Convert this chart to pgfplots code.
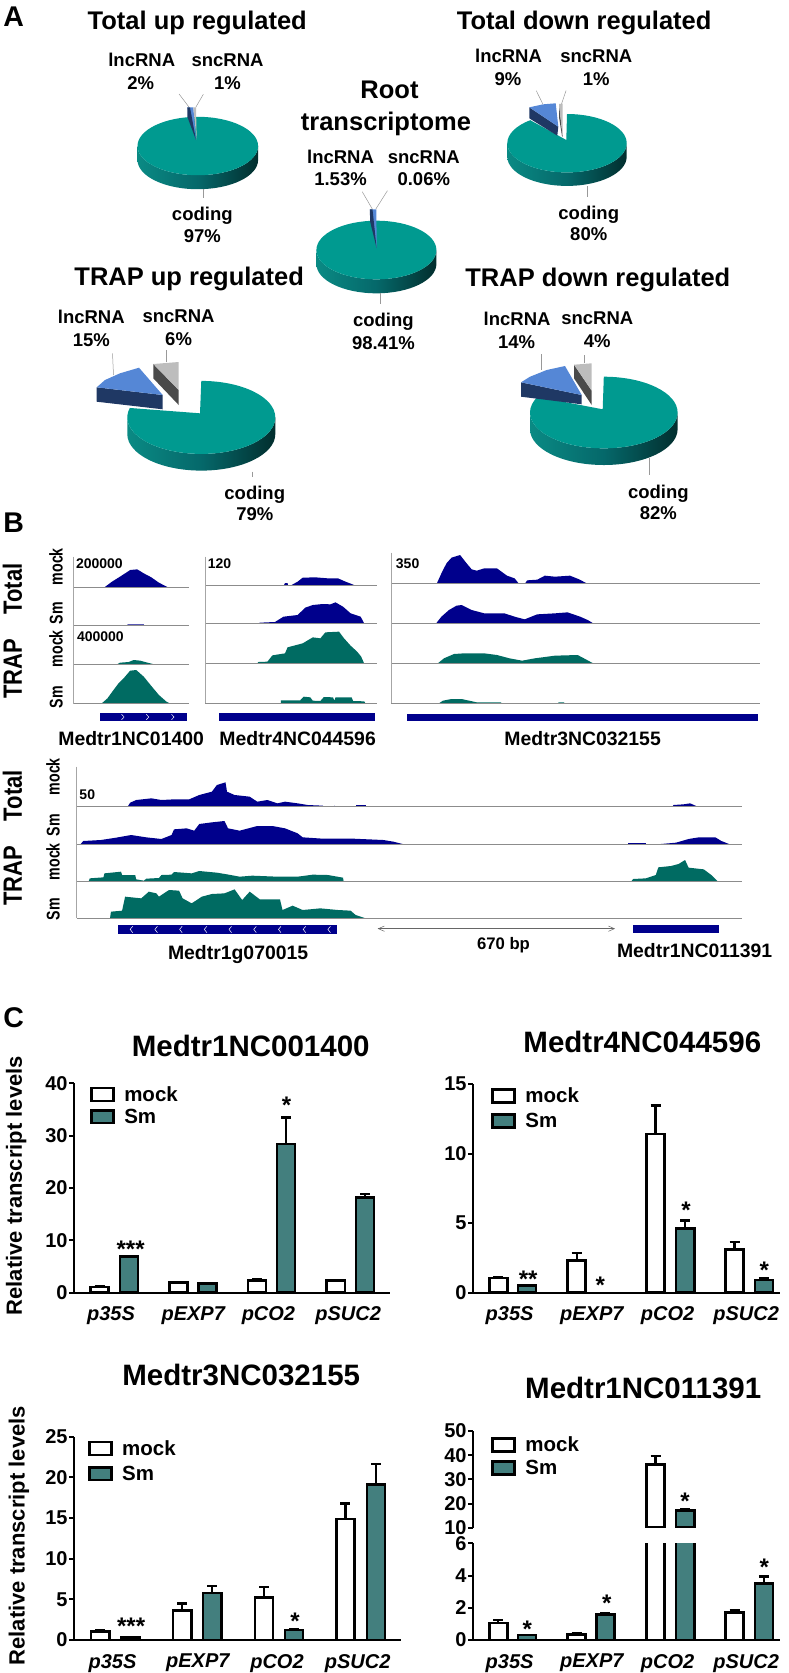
\documentclass[border=0pt]{standalone}
\usepackage{fontspec}
\setmainfont{Liberation Sans}
\usepackage{graphicx}
\usepackage{pgfplots}
\pgfplotsset{compat=1.18}
\definecolor{nv}{HTML}{00008C}
\definecolor{tg}{HTML}{006B62}
\definecolor{sm}{HTML}{437F7E}
\definecolor{pieT}{HTML}{009A90}
\definecolor{pieL}{HTML}{0A8A84}
\definecolor{pieM}{HTML}{05686A}
\definecolor{pieR}{HTML}{022E2E}
\definecolor{lnc}{HTML}{5587D6}
\definecolor{lncS}{HTML}{1F3864}
\definecolor{snc}{HTML}{BDBDBD}
\definecolor{sncS}{HTML}{4A4A4A}
\newcommand\fs[1]{\fontsize{#1}{#1}\selectfont\bfseries}
\newcommand\pieside[5]{\shade[left color=pieL,right color=pieR,middle color=pieM] (axis cs:#1,#2) ++(-#3pt,0pt) -- ++(0pt,-#5pt) arc[start angle=180,end angle=360,x radius=#3pt,y radius=#4pt] -- ++(0pt,#5pt) arc[start angle=0,end angle=-180,x radius=#3pt,y radius=#4pt] -- cycle;}
\newcommand\pietop[7]{\fill[pieT] (axis cs:#5,#6) -- ([shift={(0pt,#4pt)}]axis cs:#1,#2) arc[start angle=90,end angle=#7,x radius=#3pt,y radius=#4pt] -- cycle;}
\pgfplotsset{
 ov/.style n args={3}{scale only axis,hide axis,clip=false,at={(0pt,-#1pt)},anchor=north west,width=789pt,height=#2pt,xmin=0,xmax=1564,ymin=0,ymax=#3,y dir=reverse},
 barax/.style={scale only axis,anchor=south west,enlargelimits=false,
   axis y line*=left,tick align=outside,
   axis line style={line width=2pt,black},
   ytick style={line width=2pt,black},major tick length=5pt,
   xtick style={draw=none},
   /pgf/number format/assume math mode=true,
   yticklabel style={font=\fs{20},inner sep=1.5pt},
   xticklabel style={font=\fs{20}\itshape,inner sep=0pt,yshift=-9pt},
   title style={font=\fs{29.5},anchor=mid,inner sep=0pt,yshift=-13pt},
   ylabel style={font=\fs{22},anchor=mid,inner sep=0pt},
   legend cell align=left,
   legend image code/.code={\draw[##1,line width=2.6pt] (0pt,-6.4pt) rectangle (22.2pt,6.4pt);\path[draw=none,fill=none] (0pt,0pt) -- (32pt,0pt);},
   legend style={draw=none,fill=none,font=\fs{20.5},anchor=north west,inner sep=0pt,outer sep=0pt,
     nodes={inner sep=1pt}},
 },
 mk/.style={ybar,bar shift=0pt,bar width=18.1pt,draw=black,line width=2.6pt,fill=#1,
   error bars/.cd,y dir=plus,y explicit,error bar style={line width=2.4pt,black},
   error mark options={rotate=90,mark size=5pt,line width=2.4pt,black}},
 poly/.style={fill=#1,draw=none},
 base/.style={color=black!45,line width=1pt},
 vline/.style={color=black!35,line width=.6pt},
 leader/.style={color=black!40,line width=.5pt},
 chev/.style={color=white,line width=.5pt},
}
\tikzset{
 tt/.style={font=\fs{25.5},anchor=mid,inner sep=0pt,yshift=-7pt},
 ll/.style={font=\fs{18.5},anchor=mid,inner sep=0pt,yshift=-5pt},
 pl/.style={font=\fs{28.5},anchor=mid,inner sep=0pt,yshift=-7pt},
 gn/.style={font=\fs{19.4},anchor=mid,inner sep=0pt,yshift=-7pt},
 nn/.style={font=\fs{14},anchor=mid,inner sep=0pt,yshift=-3.5pt},
 ast/.style={font=\fs{24},anchor=mid,inner sep=0pt},
 rt/.style={font=\fs{22},anchor=mid,inner sep=0pt,rotate=90,yshift=-4pt},
 rs/.style={font=\fs{14.2},anchor=mid,inner sep=0pt,rotate=90,yshift=-3pt},
}
\begin{document}
\begin{tikzpicture}
\useasboundingbox (0pt,0pt) rectangle (789pt,-1673pt);

%% ---------- A: pies, coordinates in pixels
\begin{axis}[scale only axis,hide axis,clip=false,at={(0pt,0pt)},anchor=north west,width=789pt,height=520pt,xmin=0,xmax=789,ymin=0,ymax=520,y dir=reverse]
% Total up
\pieside{197.8}{146}{60.3}{29.2}{14}
\pietop{197.8}{146}{60.3}{29.2}{197.8}{146}{-270}
\addplot[poly=lnc] coordinates {(187.3,107.3)(193.3,107.3)(196,140)} -- cycle;
\addplot[poly=lncS] coordinates {(187.3,107.3)(187.3,116.7)(196,140)(190,107.3)} -- cycle;
\addplot[poly=snc] coordinates {(193.3,107.3)(196,107.3)(196.7,140)} -- cycle;
% Total down
\pieside{567}{143.2}{59.7}{29.2}{13.5}
\pietop{567}{143.2}{59.7}{29.2}{566.3}{140}{-232}
\addplot[poly=lncS] coordinates {(529.3,107.3)(529.3,118.3)(557.3,135.7)(558.3,126.7)} -- cycle;
\addplot[poly=lnc] coordinates {(529.3,107.3)(543.3,104.3)(555.7,103.3)(558.3,126.7)} -- cycle;
\addplot[poly=sncS] coordinates {(559,104)(559,117)(562,136)(562.7,137)} -- cycle;
\addplot[poly=snc] coordinates {(559,104)(562.7,103.7)(562.7,137)} -- cycle;
% Root
\pieside{376.4}{250}{60}{29.3}{14}
\pietop{376.4}{250}{60}{29.3}{376.4}{250}{-270}
\addplot[poly=lnc] coordinates {(369.8,209.3)(376.4,209.3)(376.6,248)} -- cycle;
\addplot[poly=lncS] coordinates {(369.8,209.3)(370.2,222)(376.6,248)(372.5,209.3)} -- cycle;
% TRAP up
\pieside{201.3}{417.4}{74}{36.5}{16.7}
\pietop{201.3}{417.4}{74}{36.5}{200}{413.3}{-195}
\addplot[poly=lncS] coordinates {(96.7,387.3)(96.7,401.7)(162.7,409.3)(162.7,395)} -- cycle;
\addplot[poly=lnc] coordinates {(96.7,387.3)(105,380)(120,373.3)(139,367.7)(162.7,395)} -- cycle;
\addplot[poly=sncS] coordinates {(153.3,364)(153.3,378.3)(178.7,405)(178.7,390)} -- cycle;
\addplot[poly=snc] coordinates {(153.3,364)(178.7,362)(178.7,390)} -- cycle;
% TRAP down
\pieside{603.8}{412.5}{73.8}{35.8}{16.7}
\pietop{603.8}{412.5}{73.8}{35.8}{602.7}{409.3}{-206}
\addplot[poly=lncS] coordinates {(521,382.3)(521,396.7)(581.7,404.3)(581.7,395)} -- cycle;
\addplot[poly=lnc] coordinates {(521,382.3)(530,376.7)(546.7,370)(565,366)(581.7,395)} -- cycle;
\addplot[poly=sncS] coordinates {(574,364.7)(574,378.3)(591.7,405)(591.7,390.7)} -- cycle;
\addplot[poly=snc] coordinates {(574,364.7)(591.7,363.3)(591.7,390.7)} -- cycle;
\end{axis}

%% ---------- A: text and leader lines
\begin{axis}[ov={0}{520}{1560}]
\addplot[leader] coordinates {(355,282)(375,322)};
\addplot[leader] coordinates {(403,283)(388,322)};
\addplot[leader] coordinates {(402,567)(402,595)};
\addplot[leader] coordinates {(1063,272)(1076,312)};
\addplot[leader] coordinates {(1122,272)(1113,312)};
\addplot[leader] coordinates {(1165,558)(1165,590)};
\addplot[leader] coordinates {(718,575)(738,627)};
\addplot[leader] coordinates {(768,572)(745,627)};
\addplot[leader] coordinates {(753,878)(753,912)};
\addplot[leader] coordinates {(223,1060)(225,1125)};
\addplot[leader] coordinates {(330,1050)(330,1087)};
\addplot[leader] coordinates {(500,1415)(500,1430)};
\addplot[leader] coordinates {(1073,1062)(1073,1110)};
\addplot[leader] coordinates {(1158,1065)(1158,1090)};
\addplot[leader] coordinates {(1287,1375)(1287,1425)};
\node[pl] at (axis cs:27,50) {A};
\node[tt] at (axis cs:391,60) {Total up regulated};
\node[tt] at (axis cs:1158,60) {Total down regulated};
\node[tt] at (axis cs:375,828) {TRAP up regulated};
\node[tt] at (axis cs:1185,830) {TRAP down regulated};
\node[tt] at (axis cs:772,268) {Root};
\node[tt] at (axis cs:765,362) {transcriptome};
\node[ll] at (axis cs:281,177) {lncRNA}; \node[ll] at (axis cs:279,245) {2\%};
\node[ll] at (axis cs:451,177) {sncRNA}; \node[ll] at (axis cs:451,245) {1\%};
\node[ll] at (axis cs:401,638) {coding}; \node[ll] at (axis cs:401,706) {97\%};
\node[ll] at (axis cs:1008,166) {lncRNA}; \node[ll] at (axis cs:1007,235) {9\%};
\node[ll] at (axis cs:1182,166) {sncRNA}; \node[ll] at (axis cs:1182,235) {1\%};
\node[ll] at (axis cs:1167,635) {coding}; \node[ll] at (axis cs:1167,700) {80\%};
\node[ll] at (axis cs:675,467) {lncRNA}; \node[ll] at (axis cs:675,535) {1.53\%};
\node[ll] at (axis cs:840,467) {sncRNA}; \node[ll] at (axis cs:840,535) {0.06\%};
\node[ll] at (axis cs:760,958) {coding}; \node[ll] at (axis cs:760,1025) {98.41\%};
\node[ll] at (axis cs:181,947) {lncRNA}; \node[ll] at (axis cs:181,1016) {15\%};
\node[ll] at (axis cs:354,945) {sncRNA}; \node[ll] at (axis cs:354,1013) {6\%};
\node[ll] at (axis cs:505,1476) {coding}; \node[ll] at (axis cs:505,1540) {79\%};
\node[ll] at (axis cs:1025,953) {lncRNA}; \node[ll] at (axis cs:1024,1022) {14\%};
\node[ll] at (axis cs:1184,951) {sncRNA}; \node[ll] at (axis cs:1184,1020) {4\%};
\node[ll] at (axis cs:1305,1472) {coding}; \node[ll] at (axis cs:1305,1537) {82\%};
\end{axis}

%% ---------- B, upper tracks
\begin{axis}[ov={510}{230}{690}]
% column 1
\addplot[poly=nv] coordinates {(207,232)(222,215)(240,198)(258,180)(272,178)(285,190)(300,202)(315,218)(333,232)} -- cycle;
\addplot[poly=nv] coordinates {(252,347)(253,343)(285,343)(286,347)} -- cycle;
\addplot[poly=tg] coordinates {(233,462)(238,458)(255,456)(265,450)(278,452)(290,457)(303,462)} -- cycle;
\addplot[poly=tg] coordinates {(201,581)(213,565)(225,540)(235,520)(245,505)(258,482)(270,480)(285,500)(300,528)(315,555)(330,575)(338,581)} -- cycle;
\addplot[base] coordinates {(145,232)(375,232)};
\addplot[base] coordinates {(145,347)(375,347)};
\addplot[base] coordinates {(145,462)(375,462)};
\addplot[base] coordinates {(145,581)(375,581)};
\addplot[vline] coordinates {(145,140)(145,581)};
% column 2
\addplot[poly=nv] coordinates {(563,225)(565,219)(570,219)(571,225)} -- cycle;
\addplot[poly=nv] coordinates {(578,225)(590,215)(600,203)(625,202)(650,205)(670,205)(685,215)(702,225)} -- cycle;
\addplot[poly=nv] coordinates {(512,341)(515,338)(545,336)(562,320)(590,315)(605,293)(620,285)(640,282)(655,283)(665,277)(680,290)(695,310)(715,320)(722,341)} -- cycle;
\addplot[poly=tg] coordinates {(510,461)(512,456)(530,455)(540,436)(565,430)(570,412)(600,400)(620,382)(635,385)(645,367)(672,365)(682,385)(695,407)(708,425)(716,440)(722,461)} -- cycle;
\addplot[poly=tg] coordinates {(557,579)(557,571)(595,571)(602,560)(615,562)(620,572)(635,573)(642,561)(660,562)(663,572)(665,562)(697,562)(700,573)(722,574)(724,579)} -- cycle;
\addplot[base] coordinates {(407,225)(747,225)};
\addplot[base] coordinates {(407,341)(747,341)};
\addplot[base] coordinates {(407,461)(747,461)};
\addplot[base] coordinates {(407,579)(747,579)};
\addplot[vline] coordinates {(407,140)(407,579)};
% column 3
\addplot[poly=nv] coordinates {(866,220)(875,190)(885,160)(895,143)(912,135)(925,160)(935,178)(945,182)(960,175)(985,175)(1005,197)(1020,205)(1028,220)} -- cycle;
\addplot[poly=nv] coordinates {(1041,220)(1045,211)(1065,209)(1080,197)(1100,200)(1130,197)(1148,208)(1163,220)} -- cycle;
\addplot[poly=nv] coordinates {(864,341)(875,320)(890,300)(905,287)(915,285)(935,300)(960,310)(1000,310)(1020,320)(1040,328)(1065,313)(1100,310)(1125,307)(1150,320)(1165,330)(1177,341)} -- cycle;
\addplot[poly=tg] coordinates {(867,461)(880,445)(900,432)(920,430)(960,430)(985,435)(1010,445)(1035,452)(1060,445)(1100,437)(1145,435)(1160,447)(1177,461)} -- cycle;
\addplot[poly=tg] coordinates {(870,580)(878,572)(895,567)(915,567)(930,572)(945,577)(993,577)(994,580)} -- cycle;
\addplot[poly=tg] coordinates {(1107,580)(1107,577)(1118,577)(1119,580)} -- cycle;
\addplot[base] coordinates {(775,220)(1507,220)};
\addplot[base] coordinates {(775,341)(1507,341)};
\addplot[base] coordinates {(775,461)(1507,461)};
\addplot[base] coordinates {(775,580)(1507,580)};
\addplot[vline] coordinates {(775,128)(775,580)};
% genes
\addplot[poly=nv] coordinates {(198,610)(370,610)(370,632)(198,632)} -- cycle;
\addplot[poly=nv] coordinates {(435,610)(743,610)(743,632)(435,632)} -- cycle;
\addplot[poly=nv] coordinates {(807,612)(1503,612)(1503,634)(807,634)} -- cycle;
\addplot[chev] coordinates {(241,613)(246,621)(241,629)};
\addplot[chev] coordinates {(290,613)(295,621)(290,629)};
\addplot[chev] coordinates {(340,613)(345,621)(340,629)};
\node[pl] at (axis cs:27,40) {B};
\node[nn] at (axis cs:197,157) {200000};
\node[nn] at (axis cs:435,157) {120};
\node[nn] at (axis cs:808,157) {350};
\node[nn] at (axis cs:199,377) {400000};
\node[gn] at (axis cs:260,678) {Medtr1NC01400};
\node[gn] at (axis cs:590,678) {Medtr4NC044596};
\node[gn] at (axis cs:1155,678) {Medtr3NC032155};
\node[rt] at (axis cs:30,237) {\scalebox{1}[1.2]{Total}};
\node[rt] at (axis cs:30,476) {\scalebox{1}[1.2]{TRAP}};
\node[rs] at (axis cs:113,170) {\scalebox{1}[1.3]{mock}};
\node[rs] at (axis cs:113,310) {\scalebox{1}[1.3]{Sm}};
\node[rs] at (axis cs:113,416) {\scalebox{1}[1.3]{mock}};
\node[rs] at (axis cs:113,562) {\scalebox{1}[1.3]{Sm}};
\end{axis}

%% ---------- B, lower tracks
\begin{axis}[ov={740}{230}{690}]
\addplot[poly=nv] coordinates {(253,200)(258,188)(270,180)(300,175)(320,180)(345,178)(375,178)(395,165)(420,155)(430,135)(447,127)(450,155)(465,165)(495,170)(510,185)(530,180)(550,190)(565,185)(590,190)(610,195)(640,197)(641,200)} -- cycle;
\addplot[poly=nv] coordinates {(663,200)(663,197)(665,200)} -- cycle;
\addplot[poly=nv] coordinates {(675,200)(675,197)(700,197)(700,200)} -- cycle;
\addplot[poly=nv] coordinates {(705,200)(705,196)(725,196)(725,200)} -- cycle;
\addplot[poly=nv] coordinates {(1333,200)(1335,195)(1355,193)(1368,190)(1383,200)} -- cycle;
\addplot[poly=nv] coordinates {(160,312)(165,303)(200,300)(230,293)(260,285)(290,292)(320,297)(340,285)(345,268)(370,265)(385,272)(395,252)(420,247)(445,243)(452,265)(475,272)(510,258)(540,258)(565,265)(590,280)(600,292)(640,296)(700,296)(760,300)(780,305)(798,312)} -- cycle;
\addplot[poly=nv] coordinates {(1245,312)(1245,309)(1280,309)(1280,312)} -- cycle;
\addplot[poly=nv] coordinates {(1310,312)(1340,308)(1365,297)(1385,292)(1418,292)(1430,303)(1445,312)} -- cycle;
\addplot[poly=tg] coordinates {(176,423)(178,415)(205,412)(207,400)(240,395)(242,405)(268,405)(270,418)(285,422)(290,416)(315,414)(320,405)(340,404)(345,396)(380,400)(395,393)(430,398)(450,403)(475,410)(500,407)(550,410)(590,410)(620,404)(650,405)(680,413)(681,423)} -- cycle;
\addplot[poly=tg] coordinates {(1252,423)(1255,417)(1280,415)(1300,405)(1305,382)(1330,378)(1345,372)(1358,360)(1365,383)(1395,388)(1410,405)(1422,423)} -- cycle;
\addplot[poly=tg] coordinates {(218,535)(220,515)(242,512)(248,470)(280,475)(295,455)(310,460)(315,470)(335,450)(355,452)(362,475)(380,490)(400,470)(420,462)(445,460)(465,448)(480,480)(495,455)(515,478)(555,478)(560,510)(580,497)(600,510)(635,505)(670,510)(695,512)(705,525)(725,535)} -- cycle;
\addplot[base] coordinates {(152,200)(1470,200)};
\addplot[base] coordinates {(152,312)(1470,312)};
\addplot[base] coordinates {(152,423)(1470,423)};
\addplot[base] coordinates {(152,535)(1470,535)};
\addplot[vline] coordinates {(152,80)(152,535)};
\addplot[poly=nv] coordinates {(233,555)(668,555)(668,582)(233,582)} -- cycle;
\addplot[poly=nv] coordinates {(1255,556)(1426,556)(1426,578)(1255,578)} -- cycle;
\addplot[chev] coordinates {(263,559)(258,568)(263,578)};
\addplot[chev] coordinates {(312,559)(307,568)(312,578)};
\addplot[chev] coordinates {(361,559)(356,568)(361,578)};
\addplot[chev] coordinates {(410,559)(405,568)(410,578)};
\addplot[chev] coordinates {(459,559)(454,568)(459,578)};
\addplot[chev] coordinates {(508,559)(503,568)(508,578)};
\addplot[chev] coordinates {(557,559)(552,568)(557,578)};
\addplot[chev] coordinates {(606,559)(601,568)(606,578)};
\addplot[chev] coordinates {(655,559)(650,568)(655,578)};
\addplot[color=black!60,line width=.5pt] coordinates {(750,566)(1218,566)};
\addplot[color=black!60,line width=.5pt] coordinates {(762,558)(750,566)(762,574)};
\addplot[color=black!60,line width=.5pt] coordinates {(1206,558)(1218,566)(1206,574)};
\node[nn] at (axis cs:173,160) {50};
\node[font=\fs{16.7},anchor=mid,inner sep=0pt,yshift=-4pt] at (axis cs:998,610) {670 bp};
\node[gn] at (axis cs:472,630) {Medtr1g070015};
\node[gn] at (axis cs:1377,623) {Medtr1NC011391};
\node[rt] at (axis cs:30,167) {\scalebox{1}[1.2]{Total}};
\node[rt] at (axis cs:30,408) {\scalebox{1}[1.2]{TRAP}};
\node[rs] at (axis cs:107,110) {\scalebox{1}[1.3]{mock}};
\node[rs] at (axis cs:107,255) {\scalebox{1}[1.3]{Sm}};
\node[rs] at (axis cs:107,365) {\scalebox{1}[1.3]{mock}};
\node[rs] at (axis cs:107,508) {\scalebox{1}[1.3]{Sm}};
\end{axis}

%% ---------- C1
\begin{axis}[barax,at={(74.2pt,-1292.7pt)},width=315.3pt,height=209.4pt,
  xmin=147,xmax=772,ymin=0,ymax=40,ytick={0,10,20,30,40},
  axis x line*=bottom,
  xtick={220,383,532,690},xticklabels={p35S,pEXP7,pCO2,pSUC2},
  title={Medtr1NC001400},title style={at={(axis description cs:0.56,1.175)}},
  ylabel={Relative transcript levels},ylabel style={at={(axis description cs:-0.174,0.511)}},
  legend style={at={(axis description cs:0.05,0.99)},row sep=4pt}]
\addplot[mk=white] coordinates {(197.5,1.1) +- (0,0.15) (353.5,2.0) +- (0,0.1) (509.5,2.3) +- (0,0.2) (665.5,2.3) +- (0,0.15)};
\addplot[mk=sm] coordinates {(255.5,6.9) +- (0,0.1) (411,1.8) +- (0,0.05) (567,28.4) +- (0,5.1) (723.5,18.2) +- (0,0.6)};
\legend{mock,Sm}
\end{axis}

%% ---------- C2
\begin{axis}[barax,at={(473.3pt,-1292.7pt)},width=306.2pt,height=208.7pt,
  xmin=938,xmax=1545,ymin=0,ymax=15,ytick={0,5,10,15},
  axis x line*=bottom,
  xtick={1010,1173,1323,1479},xticklabels={p35S,pEXP7,pCO2,pSUC2},
  title={Medtr4NC044596},title style={at={(axis description cs:0.552,1.198)}},
  legend style={at={(axis description cs:0.058,0.987)},row sep=7pt}]
\addplot[mk=white] coordinates {(987.5,1.05) +- (0,0.08) (1143,2.3) +- (0,0.55) (1299.5,11.4) +- (0,2.05) (1456,3.1) +- (0,0.55)};
\addplot[mk=sm] coordinates {(1044.5,0.5) +- (0,0.03) (1358,4.6) +- (0,0.6) (1514,0.9) +- (0,0.15)};
\legend{mock,Sm}
\end{axis}

%% ---------- C3
\begin{axis}[barax,at={(74.2pt,-1640pt)},width=326.9pt,height=203.3pt,
  xmin=147,xmax=795,ymin=0,ymax=25,ytick={0,5,10,15,20,25},
  axis x line*=bottom,
  xtick={223,392,549,709},xticklabels={p35S,pEXP7,pCO2,pSUC2},
  title={Medtr3NC032155},title style={at={(axis description cs:0.511,1.299)}},
  ylabel={Relative transcript levels},ylabel style={at={(axis description cs:-0.16,0.513)}},
  legend style={at={(axis description cs:0.042,0.987)},row sep=7pt}]
\addplot[mk=white] coordinates {(198.5,1.05) +- (0,0.2) (361,3.6) +- (0,0.9) (523.5,5.2) +- (0,1.3) (684.5,14.9) +- (0,1.9)};
\addplot[mk=sm] coordinates {(258.5,0.3) +- (0,0.05) (420.5,5.8) +- (0,0.85) (582.5,1.25) +- (0,0.1) (745.5,19.1) +- (0,2.55)};
\legend{mock,Sm}
\end{axis}

%% ---------- C4, lower segment
\begin{axis}[barax,at={(473.3pt,-1640pt)},width=306.2pt,height=96.7pt,
  xmin=938,xmax=1545,ymin=0,ymax=6,ytick={0,2,4,6},
  axis x line*=bottom,
  xtick={1010,1173,1323,1479},xticklabels={p35S,pEXP7,pCO2,pSUC2}]
\addplot[mk=white] coordinates {(987.5,1.05) +- (0,0.2) (1143,0.35) +- (0,0.1) (1299.5,36.2) +- (0,3.5) (1456,1.7) +- (0,0.15)};
\addplot[mk=sm] coordinates {(1044.5,0.3) +- (0,0.03) (1200,1.6) +- (0,0.07) (1358,17) +- (0,0.7) (1514,3.5) +- (0,0.45)};
\end{axis}

%% ---------- C4, upper segment
\begin{axis}[barax,at={(473.3pt,-1527.7pt)},width=306.2pt,height=96.7pt,
  xmin=938,xmax=1545,ymin=10,ymax=50,ytick={10,20,30,40,50},
  axis x line=none,
  title={Medtr1NC011391},title style={at={(axis description cs:0.555,1.431)}},
  legend style={at={(axis description cs:0.058,0.95)},row sep=5pt}]
\addplot[mk=white] coordinates {(1299.5,36.2) +- (0,3.5)};
\addplot[mk=sm] coordinates {(1358,17) +- (0,0.7)};
\legend{mock,Sm}
\end{axis}

%% ---------- C: significance stars, letter
\begin{axis}[ov={1020}{300}{900}]
\node[pl] at (axis cs:27,-6) {C};
\node[ast] at (axis cs:259,704) {***};
\node[ast] at (axis cs:568,274) {*};
\node[ast] at (axis cs:1047,794) {**};
\node[ast] at (axis cs:1190,814) {*};
\node[ast] at (axis cs:1360,589) {*};
\node[ast] at (axis cs:1515,769) {*};
\end{axis}
\begin{axis}[ov={1350}{323}{969}]
\node[ast] at (axis cs:260,846) {***};
\node[ast] at (axis cs:585,832) {*};
\node[ast] at (axis cs:1045,856) {*};
\node[ast] at (axis cs:1203,776) {*};
\node[ast] at (axis cs:1358,471) {*};
\node[ast] at (axis cs:1515,669) {*};
\end{axis}
\end{tikzpicture}
\end{document}
